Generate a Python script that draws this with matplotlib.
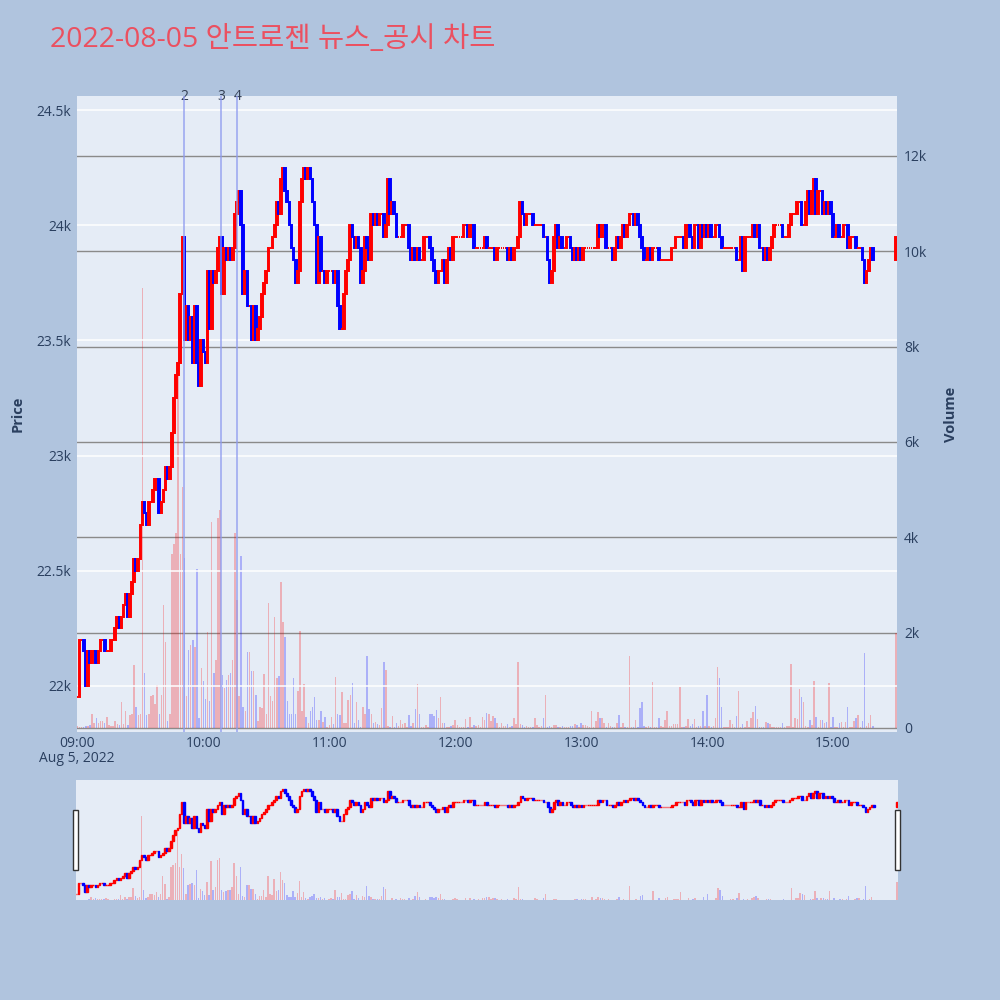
import numpy as np
import matplotlib
matplotlib.use("Agg")
import matplotlib.pyplot as plt
from matplotlib.patches import Rectangle

plt.rcParams['font.family'] = ['Open Sans', 'Noto Sans CJK KR', 'DejaVu Sans']

# ---------------- data (per-minute, 09:00 .. 15:19 and 15:30) ----------------
minutes = list(range(380)) + [390]

close_prices = [
    21950, 22200, 22200, 22150, 22000, 22150, 22100, 22150, 22150, 22100,
    22150, 22200, 22200, 22150, 22150, 22150, 22200, 22200, 22250, 22300,
    22250, 22300, 22350, 22400, 22300, 22400, 22450, 22550, 22500, 22550,
    22700, 22800, 22750, 22700, 22800, 22800, 22850, 22900, 22900, 22750,
    22800, 22850, 22950, 22900, 22950, 23100, 23250, 23350, 23400, 23700,
    23950, 23500, 23650, 23500, 23600, 23400, 23650, 23400, 23300, 23500,
    23450, 23400, 23800, 23550, 23800, 23750, 23800, 23900, 23950, 23700,
    23900, 23850, 23900, 23850, 23900, 24050, 24100, 24150, 24000, 23700,
    23800, 23650, 23650, 23500, 23650, 23500, 23550, 23600, 23700, 23750,
    23800, 23900, 23900, 23950, 24000, 24100, 24050, 24200, 24250, 24150,
    24100, 24000, 23900, 23850, 23750, 23800, 24100, 24200, 24250, 24200,
    24250, 24200, 24100, 24000, 23750, 23950, 23800, 23800, 23750, 23800,
    23800, 23800, 23750, 23800, 23650, 23550, 23550, 23700, 23800, 23850,
    24000, 23950, 23900, 23950, 23900, 23750, 23800, 23950, 23900, 23850,
    24050, 24000, 24050, 24000, 24050, 24050, 23950, 24000, 24200, 24050,
    24100, 24050, 23950, 23950, 23950, 24000, 24000, 24000, 23900, 23850,
    23900, 23850, 23900, 23850, 23850, 23950, 23950, 23950, 23900, 23850,
    23800, 23750, 23800, 23800, 23850, 23750, 23850, 23900, 23850, 23950,
    23950, 23950, 23950, 23950, 24000, 24000, 23950, 24000, 24000, 23900,
    23900, 23900, 23900, 23900, 23950, 23900, 23900, 23900, 23900, 23850,
    23900, 23900, 23900, 23900, 23900, 23850, 23900, 23850, 23900, 23900,
    23950, 24100, 24050, 24000, 24050, 24050, 24050, 24000, 24000, 24000,
    24000, 24000, 23950, 23950, 23850, 23750, 23800, 23950, 24000, 23900,
    23950, 23900, 23900, 23950, 23950, 23900, 23850, 23900, 23850, 23900,
    23850, 23900, 23900, 23900, 23900, 23900, 23900, 23900, 24000, 23950,
    24000, 24000, 23900, 23900, 23900, 23850, 23900, 23950, 23900, 23950,
    24000, 23950, 24000, 24050, 24050, 24000, 24050, 24000, 23950, 23900,
    23850, 23850, 23900, 23850, 23900, 23900, 23900, 23850, 23850, 23850,
    23850, 23850, 23850, 23900, 23900, 23950, 23950, 23950, 23950, 23900,
    24000, 24000, 23950, 23900, 24000, 24000, 23900, 24000, 23950, 24000,
    23950, 24000, 23950, 23950, 24000, 24000, 23950, 23900, 23900, 23900,
    23900, 23900, 23900, 23900, 23850, 23850, 23950, 23800, 23950, 23950,
    23950, 23950, 24000, 23950, 24000, 23900, 23900, 23850, 23900, 23850,
    23900, 23950, 24000, 24000, 24000, 24000, 23950, 23950, 23950, 24000,
    24050, 24050, 24050, 24100, 24100, 24000, 24000, 24100, 24150, 24050,
    24150, 24200, 24050, 24150, 24150, 24050, 24100, 24050, 24100, 24050,
    23950, 23950, 24000, 23950, 23950, 24000, 24000, 23900, 23950, 23950,
    23950, 23900, 23900, 23900, 23850, 23750, 23800, 23850, 23900, 23850,
    23950,
]

volumes = [
    40, 20, 20, 30, 50, 40, 60, 300, 100, 200,
    100, 150, 150, 100, 230, 60, 40, 50, 150, 80,
    60, 540, 80, 350, 60, 280, 300, 1330, 450, 270,
    300, 9240, 1150, 270, 300, 680, 700, 500, 900, 300,
    700, 2590, 1800, 140, 300, 3650, 3850, 4090, 7670, 3650,
    5050, 3570, 670, 1640, 1750, 1850, 1700, 3340, 200, 1260,
    980, 600, 2020, 560, 4330, 1150, 1430, 4400, 4580, 1120,
    840, 1000, 1120, 1150, 1430, 4090, 2690, 670, 3600, 450,
    350, 1600, 1600, 1200, 1200, 700, 150, 450, 420, 1130,
    300, 2630, 670, 560, 2320, 1040, 1100, 3060, 2220, 1900,
    560, 300, 300, 1040, 300, 780, 2040, 350, 920, 240,
    100, 350, 450, 660, 170, 170, 350, 120, 240, 30,
    60, 240, 80, 1080, 300, 280, 750, 100, 100, 580,
    690, 940, 100, 550, 170, 30, 450, 300, 1510, 390,
    300, 100, 120, 80, 60, 410, 1390, 1220, 40, 30,
    250, 30, 100, 50, 170, 80, 100, 30, 270, 40,
    100, 400, 930, 300, 30, 30, 60, 30, 300, 300,
    260, 370, 200, 640, 100, 100, 30, 30, 40, 60,
    170, 60, 30, 30, 30, 180, 30, 240, 30, 60,
    40, 60, 30, 230, 170, 310, 290, 140, 260, 200,
    100, 30, 100, 40, 40, 80, 30, 40, 200, 80,
    1390, 80, 60, 30, 40, 30, 30, 30, 200, 60,
    30, 40, 200, 690, 30, 40, 30, 60, 60, 30,
    30, 40, 30, 30, 30, 50, 40, 80, 60, 30,
    105, 70, 60, 40, 30, 360, 30, 140, 340, 210,
    200, 100, 30, 100, 40, 30, 30, 100, 280, 30,
    100, 30, 30, 1510, 30, 30, 160, 30, 420, 550,
    50, 30, 40, 30, 970, 30, 30, 210, 40, 30,
    170, 350, 50, 50, 80, 80, 80, 850, 30, 30,
    40, 190, 40, 80, 190, 30, 50, 40, 360, 50,
    690, 50, 30, 50, 200, 1270, 1050, 430, 30, 30,
    30, 160, 80, 30, 250, 780, 30, 80, 30, 150,
    30, 200, 340, 470, 190, 30, 30, 30, 130, 100,
    80, 30, 30, 30, 30, 30, 110, 30, 50, 50,
    1340, 30, 200, 190, 820, 640, 540, 50, 30, 160,
    70, 990, 230, 30, 170, 170, 110, 120, 940, 20,
    240, 30, 30, 100, 120, 30, 130, 450, 30, 30,
    150, 220, 270, 30, 140, 1570, 50, 100, 280, 50,
    2000,
]

news_minutes = [51.0, 68.6, 76.2]
news_labels = ['2', '3', '4']

tick_minutes = [0, 60, 120, 180, 240, 300, 360]
tick_labels = ['09:00', '10:00', '11:00', '12:00', '13:00', '14:00', '15:00']
price_ticks = [22000, 22500, 23000, 23500, 24000, 24500]
price_tick_labels = ['22k', '22.5k', '23k', '23.5k', '24k', '24.5k']
vol_ticks = [0, 2000, 4000, 6000, 8000, 10000, 12000]
vol_tick_labels = ['0', '2k', '4k', '6k', '8k', '10k', '12k']

title = '2022-08-05 안트로젠 뉴스_공시 차트'

# ---------------- derived ----------------
x = np.array(minutes, dtype=float)
close = np.array(close_prices, dtype=float)
open_ = np.concatenate([[close[0]], close[:-1]])
up = close >= open_
ccol = np.where(up, '#FF0000', '#0000FF')

FG = '#2a3f5f'
BG = '#B0C4DE'
PLOT_BG = '#E5ECF6'
TS = 10

fig = plt.figure(figsize=(10, 10), dpi=100, facecolor=BG)


def px_rect(l, t, r, b):
    return [l / 1000, 1 - b / 1000, (r - l) / 1000, (b - t) / 1000]


def draw_candles(a, lw=1.4):
    h = close - open_
    a.bar(x, h, bottom=open_, width=0.8, color=ccol, edgecolor=ccol,
          linewidth=lw, zorder=3)


def draw_volume(a, w=0.7):
    a.bar(x, volumes, width=w, color=ccol, alpha=0.25, linewidth=0, zorder=2)


# ---------------- main chart ----------------
ax = fig.add_axes(px_rect(77, 96, 897, 732))
ax2 = ax.twinx()
ax.set_zorder(2)
ax.patch.set_visible(False)
ax2.set_zorder(1)
ax2.patch.set_visible(True)
ax2.set_facecolor(PLOT_BG)

draw_volume(ax2)
draw_candles(ax)

xlim = (-0.2, 390.5)
ax.set_xlim(*xlim)
ax.set_ylim(21800, 24561)
ax2.set_ylim(-84, 13258)

ax.set_yticks(price_ticks)
ax.set_yticklabels(price_tick_labels)
ax2.set_yticks(vol_ticks)
ax2.set_yticklabels(vol_tick_labels)
ax.set_xticks(tick_minutes)
ax.set_xticklabels(tick_labels)

ax.grid(axis='y', color='white', linewidth=1.1, zorder=0)
ax.grid(axis='x', visible=False)
ax2.grid(axis='y', color='#8a8a8a', linewidth=1.0)
ax2.set_axisbelow(True)
ax.set_axisbelow(True)

for a in (ax, ax2):
    for s in a.spines.values():
        s.set_visible(False)
    a.tick_params(length=0, labelsize=TS, labelcolor=FG)
ax.tick_params(axis='y', pad=4)
ax.tick_params(axis='x', pad=3)
ax2.tick_params(axis='y', pad=5)

ax.set_ylabel('Price', fontsize=10.5, fontweight='bold', color=FG, labelpad=9)
ax2.set_ylabel('Volume', fontsize=10.5, fontweight='bold', color=FG, labelpad=12)

for nm, lab in zip(news_minutes, news_labels):
    ax.axvline(nm, color='#8f9cf0', alpha=0.7, linewidth=1.4, zorder=4)
    ax.text(nm, 1.0, lab, transform=ax.get_xaxis_transform(), ha='center',
            va='center', fontsize=TS, color='#333f55')

fig.text(77 / 1000, 1 - 758 / 1000, 'Aug 5, 2022', ha='center', va='center',
         fontsize=TS, color=FG)

fig.text(50 / 1000, 1 - 40 / 1000, title, ha='left', va='center',
         fontsize=20.5, color='#EB5060')

# ---------------- range slider ----------------
rs = fig.add_axes(px_rect(76, 780, 898, 900))
rs2 = rs.twinx()
rs.set_zorder(2)
rs.patch.set_visible(False)
rs2.set_zorder(1)
rs2.patch.set_visible(True)
rs2.set_facecolor(PLOT_BG)
draw_volume(rs2, w=0.7)
draw_candles(rs, lw=1.0)
rs.set_xlim(*xlim)
rs.set_ylim(21820, 24440)
rs2.set_ylim(0, 13200)
for a in (rs, rs2):
    a.set_xticks([])
    a.set_yticks([])
    for s in a.spines.values():
        s.set_visible(False)

for hx in (75, 897):
    fig.patches.append(Rectangle((hx / 1000 - 0.0025, 1 - 870 / 1000), 0.005, 0.06,
                                 transform=fig.transFigure, facecolor='white',
                                 edgecolor='#333333', linewidth=1.0, zorder=10))

fig.savefig('out.png', dpi=100, facecolor=BG)
